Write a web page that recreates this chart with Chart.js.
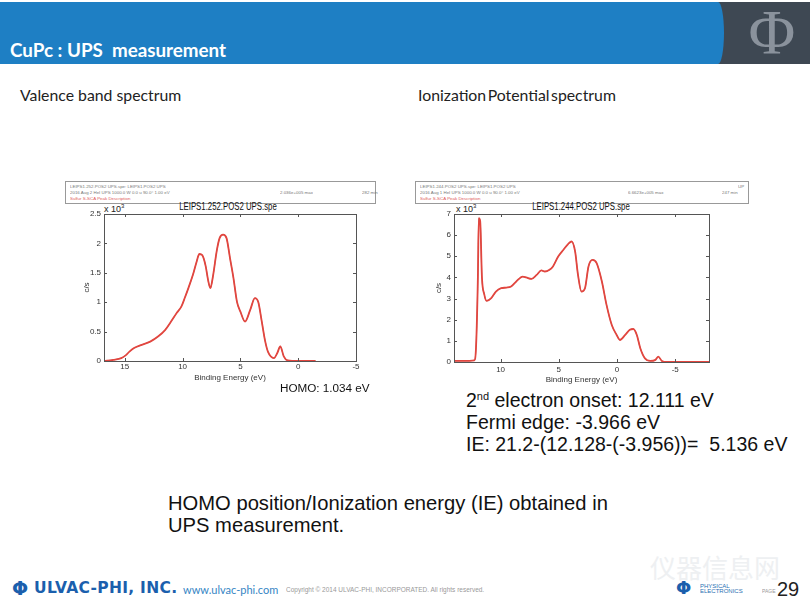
<!DOCTYPE html>
<html lang="en">
<head>
<meta charset="UTF-8">
<title>CuPc : UPS measurement</title>
<script src="https://cdn.jsdelivr.net/npm/chart.js"></script>
<style>
body { margin:0; background:#fff; font-family:'Liberation Sans', Arial, sans-serif; }
#slide { position:relative; width:810px; height:608px; overflow:hidden; background:#fff; }
.abs { position:absolute; white-space:nowrap; }
/* cabecera */
#bar { left:0; top:2px; width:810px; height:62px; background:#3e4853; }
#blue { left:0; top:0; width:724px; height:62px; background:#1e7fc4; border-radius:0 6px 6px 0 / 0 31px 31px 0; }
#phi { left:742px; top:-6px; width:60px; text-align:center; font:64px 'Liberation Serif', serif; color:#8a929c; }
#title { left:10px; top:36px; font:bold 18.8px Lato, sans-serif; color:#fff; }
.sub { top:85px; font:15.8px Lato, sans-serif; color:#222; }
/* cajas de info */
.infobox { border:1px solid #999; height:21px; }
.tiny { position:absolute; white-space:nowrap; font-size:8px; color:#777; transform:scale(0.55); transform-origin:left top; }
.ctitle { font-size:10px; color:#111; transform:scaleX(0.78); transform-origin:center top; text-align:center; width:200px; }
.mult { font-size:9px; color:#222; }
.mult sup { font-size:6px; }
.big { font-size:19.5px; color:#111; }
.big sup { font-size:11px; }
/* pie */
.foot { color:#1b5fad; }
</style>
</head>
<body>
<div id="slide">
  <div id="bar" class="abs">
    <div id="blue" class="abs"></div>
    <div id="phi" class="abs">Φ</div>
    <div id="title" class="abs">CuPc : UPS&nbsp; measurement</div>
  </div>

  <div class="abs sub" style="left:20px">Valence band spectrum</div>
  <div class="abs sub" style="left:418px; word-spacing:-2.5px">Ionization Potential spectrum</div>

  <!-- caja izquierda -->
  <div class="abs infobox" style="left:65px; top:181px; width:309px">
    <div class="tiny" style="left:4px; top:2px">LEIPS1.252.POS2 UPS.spe: LEIPS1.POS2 UPS</div>
    <div class="tiny" style="left:4px; top:8px">2016 Aug 2 HeI UPS 1000.0 W 0.0 u 90.0° 1.00 eV</div>
    <div class="tiny" style="left:4px; top:14px; color:#e05a5a">Sulfur S-SCA Peak Description</div>
    <div class="tiny" style="left:214px; top:8px">2.036e+005 max</div>
    <div class="tiny" style="left:296px; top:8px">282 min</div>
  </div>
  <!-- caja derecha -->
  <div class="abs infobox" style="left:415px; top:181px; width:332px">
    <div class="tiny" style="left:4px; top:2px">LEIPS1.244.POS2 UPS.spe: LEIPS1.POS2 UPS</div>
    <div class="tiny" style="left:4px; top:8px">2016 Aug 1 HeI UPS 1000.0 W 0.0 u 90.0° 1.00 eV</div>
    <div class="tiny" style="left:4px; top:14px; color:#e05a5a">Sulfur S-SCA Peak Description</div>
    <div class="tiny" style="left:212px; top:8px">6.6623e+005 max</div>
    <div class="tiny" style="left:306px; top:8px">247 min</div>
    <div class="tiny" style="left:322px; top:2px">UP</div>
  </div>

  <div class="abs ctitle" style="left:128px; top:201px">LEIPS1.252.POS2 UPS.spe</div>
  <div class="abs ctitle" style="left:481px; top:201px">LEIPS1.244.POS2 UPS.spe</div>
  <div class="abs mult" style="left:104px; top:203px">x 10<sup>3</sup></div>
  <div class="abs mult" style="left:456px; top:203px">x 10<sup>3</sup></div>

  <canvas id="valenceChart" class="abs" width="282" height="182" style="left:80px; top:205px"></canvas>
  <canvas id="ionChart" class="abs" width="283" height="184" style="left:432px; top:205px"></canvas>

  <div class="abs" style="left:280px; top:381px; font-size:11.7px; color:#111">HOMO: 1.034 eV</div>

  <div class="abs big" style="left:466px; top:389px">2<sup>nd</sup> electron onset: 12.111 eV</div>
  <div class="abs big" style="left:466px; top:411px">Fermi edge: -3.966 eV</div>
  <div class="abs big" style="left:466px; top:433px">IE: 21.2-(12.128-(-3.956))=&nbsp; 5.136 eV</div>

  <div class="abs big" style="left:168px; top:492px; font-size:20.2px">HOMO position/Ionization energy (IE) obtained in</div>
  <div class="abs big" style="left:168px; top:514px; font-size:20.2px">UPS measurement.</div>

  <!-- pie de pagina -->
  <div class="abs" style="left:650px; top:548px; font:26px 'Noto Sans CJK SC', sans-serif; color:#eef0f2">仪器信息网</div>
  <div class="abs foot" style="left:12px; top:577px; font:bold 19px 'DejaVu Sans', sans-serif">Φ</div>
  <div class="abs foot" style="left:34px; top:579px; font:bold 15.5px 'DejaVu Sans', sans-serif; letter-spacing:0.3px">ULVAC-PHI, INC.</div>
  <div class="abs" style="left:183px; top:583px; font:11px Lato, sans-serif; color:#3585c4">www.ulvac-phi.com</div>
  <div class="abs tiny" style="left:286px; top:586px; font-size:12px; color:#999; transform:scale(0.54)">Copyright © 2014 ULVAC-PHI, INCORPORATED. All rights reserved.</div>
  <div class="abs foot" style="left:676px; top:577px; font:bold 18px 'DejaVu Sans', sans-serif">Φ</div>
  <div class="abs tiny" style="left:700px; top:583px; font-size:12px; color:#2a6fb3; transform:scale(0.5); line-height:11px">PHYSICAL<br>ELECTRONICS</div>
  <div class="abs tiny" style="left:762px; top:588px; font-size:10px; color:#999; transform:scale(0.5)">PAGE</div>
  <div class="abs" style="left:777px; top:578px; font-size:20px; color:#222">29</div>
</div>

<script>
// Espectro de banda de valencia (energia de enlace en eV, cuentas en 10^3 c/s)
const valenceEnergy = [16.8, 16.0, 15.3, 14.9, 14.6, 14.2, 13.6, 12.8, 12.1, 11.5, 11.0, 10.5, 10.1, 9.8, 9.5, 9.1,
    8.8, 8.55, 8.3, 8.0, 7.8, 7.6, 7.35, 7.05, 6.8, 6.5, 6.2, 5.9, 5.6, 5.3, 5.0, 4.6, 4.15, 3.75, 3.45,
    3.15, 2.85, 2.6, 2.1, 1.8, 1.55, 1.25, 0.9, 0.0, -1.5];
const valenceCounts = [0, 0.02, 0.05, 0.10, 0.16, 0.22, 0.27, 0.33, 0.42, 0.53, 0.67, 0.82, 0.93, 1.08, 1.24, 1.47,
    1.68, 1.82, 1.80, 1.61, 1.38, 1.24, 1.47, 1.87, 2.09, 2.15, 2.09, 1.75, 1.41, 1.01, 0.84, 0.67, 0.87, 1.07, 1.00,
    0.67, 0.33, 0.15, 0.05, 0.14, 0.25, 0.08, 0.01, 0, 0];
const valenceXTicks = [15, 10, 5, 0, -5];
const valenceYTicks = [0, 0.5, 1, 1.5, 2, 2.5];

// Espectro de potencial de ionizacion
const ionEnergy = [14.0, 13.25, 12.25, 12.1, 11.95, 11.87, 11.75, 11.6, 11.4, 11.2, 10.8, 10.4, 9.95, 9.5, 9.1,
    8.65, 8.1, 7.8, 7.35, 6.9, 6.5, 6.2, 5.8, 5.5, 5.05, 4.6, 4.2, 3.9, 3.6, 3.35, 3.05, 2.75, 2.45, 2.1, 1.75,
    1.3, 0.9, 0.45, 0.03, -0.25, -0.7, -1.1, -1.4, -1.7, -2.0, -2.4, -2.85, -3.3, -3.55, -3.85, -4.3, -7.9];
const ionCounts = [0.05, 0.05, 0.08, 0.8, 3.97, 6.8, 6.65, 4.0, 3.2, 2.89, 3.02, 3.33, 3.49, 3.52, 3.57,
    3.81, 4.04, 4.0, 3.93, 4.12, 4.33, 4.28, 4.36, 4.52, 4.99, 5.31, 5.58, 5.7, 5.23, 4.12, 3.33, 3.49, 4.52, 4.83, 4.68,
    3.81, 2.70, 1.75, 1.28, 1.04, 1.28, 1.52, 1.56, 1.28, 0.65, 0.17, 0.05, 0.10, 0.25, 0.05, 0, 0];
const ionXTicks = [10, 5, 0, -5];
const ionYTicks = [0, 1, 2, 3, 4, 5, 6, 7];

// Marco con marcas hacia dentro (estilo Matlab)
const boxTicks = {
    id: 'boxTicks',
    afterDraw(chart) {
        const ctx = chart.ctx, a = chart.chartArea, x = chart.scales.x, y = chart.scales.y;
        ctx.save();
        ctx.strokeStyle = '#555';
        ctx.lineWidth = 1;
        ctx.strokeRect(Math.round(a.left) + 0.5, Math.round(a.top) + 0.5, Math.round(a.width), Math.round(a.height));
        ctx.beginPath();
        x.ticks.forEach(function(t) {
            const px = Math.round(x.getPixelForValue(t.value)) + 0.5;
            ctx.moveTo(px, a.bottom); ctx.lineTo(px, a.bottom - 3);
            ctx.moveTo(px, a.top); ctx.lineTo(px, a.top + 3);
        });
        y.ticks.forEach(function(t) {
            const py = Math.round(y.getPixelForValue(t.value)) + 0.5;
            ctx.moveTo(a.left, py); ctx.lineTo(a.left + 3, py);
            ctx.moveTo(a.right, py); ctx.lineTo(a.right - 3, py);
        });
        ctx.stroke();
        ctx.restore();
    }
};

function makeSpectrum(id, energy, counts, xMin, xMax, xTicks, yMax, yTicks, opts) {
    const pts = energy.map(function(e, i) { return {x: e, y: counts[i]}; });
    return new Chart(document.getElementById(id), {
        type: 'scatter',
        data: {
            datasets: [{
                data: pts, showLine: true, borderColor: '#e2463f', borderWidth: 1.8,
                pointRadius: 0, cubicInterpolationMode: 'monotone'
            }, {
                data: pts, showLine: true, borderColor: '#6e2a28', borderWidth: 0.6,
                pointRadius: 0, cubicInterpolationMode: 'monotone'
            }]
        },
        options: {
            responsive: false,
            animation: false,
            layout: { padding: { top: 9, right: 6, left: 0, bottom: 0 } },
            plugins: { legend: { display: false }, tooltip: { enabled: false } },
            scales: {
                x: {
                    type: 'linear', reverse: true, min: xMin, max: xMax,
                    grid: { display: false, drawTicks: false }, border: { display: false },
                    ticks: { font: { size: 8 }, color: '#333', padding: opts.xPad, maxRotation: 0,
                             callback: function(v) { return String(v); } },
                    afterBuildTicks: function(s) { s.ticks = xTicks.map(function(v) { return {value: v}; }); },
                    afterFit: function(s) { s.height = opts.xH; },
                    title: { display: true, text: 'Binding Energy (eV)', font: { size: 8 }, color: '#333',
                             padding: { top: 0, bottom: 4 } }
                },
                y: {
                    min: 0, max: yMax,
                    grid: { display: false, drawTicks: false }, border: { display: false },
                    ticks: { font: { size: 8 }, color: '#333', padding: 3,
                             callback: function(v) { return String(v); } },
                    afterBuildTicks: function(s) { s.ticks = yTicks.map(function(v) { return {value: v}; }); },
                    afterFit: function(s) { s.width = opts.yW; },
                    title: { display: true, text: 'c/s', font: { size: 8 }, color: '#333',
                             padding: { top: 2, bottom: 0 } }
                }
            }
        },
        plugins: [boxTicks]
    });
}

makeSpectrum('valenceChart', valenceEnergy, valenceCounts, -5, 16.8, valenceXTicks, 2.5, valenceYTicks,
    { xPad: 1, xH: 26, yW: 24 });
makeSpectrum('ionChart', ionEnergy, ionCounts, -7.9, 14.0, ionXTicks, 7, ionYTicks,
    { xPad: 3, xH: 27, yW: 22 });
</script>
</body>
</html>
